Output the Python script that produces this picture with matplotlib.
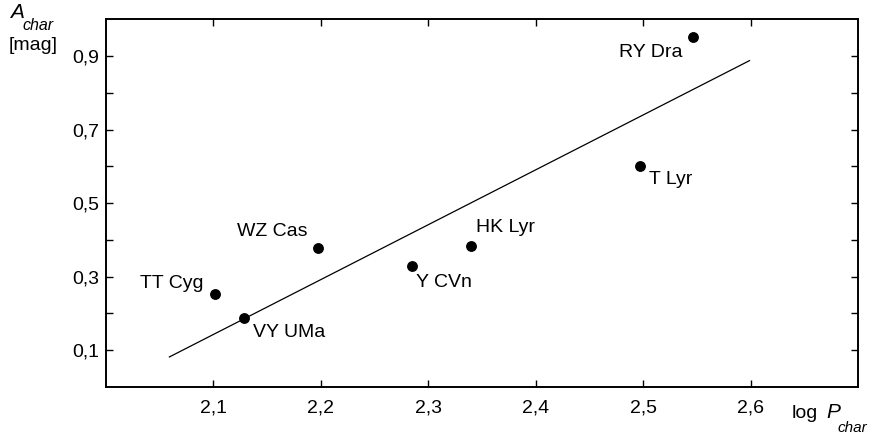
#!/usr/bin/env python3

import matplotlib.pyplot as plt
import numpy as np


STARS = ["TT Cyg", "VY UMa", "WZ Cas", "Y CVn", "HK Lyr", "T Lyr", "RY Dra"]
LOG_P = [2.101, 2.128, 2.197, 2.2845, 2.3395, 2.4975, 2.546]
AMPL = [0.253, 0.187, 0.379, 0.329, 0.383, 0.602, 0.951]

FIT_X = [2.059, 2.599]
FIT_Y = [0.081, 0.888]

X_TICKS = [2.1, 2.2, 2.3, 2.4, 2.5, 2.6]
Y_TICKS = [0.1, 0.2, 0.3, 0.4, 0.5, 0.6, 0.7, 0.8, 0.9]

# label offsets in pixels (dx, dy, ha)
OFFSETS = {
    "TT Cyg": (-11, 10, "right"),
    "VY UMa": (9, -14, "left"),
    "WZ Cas": (-10, 16, "right"),
    "Y CVn": (4, -17, "left"),
    "HK Lyr": (5, 19, "left"),
    "T Lyr": (9, -14, "left"),
    "RY Dra": (-10, -15, "right"),
}


def comma(v, _pos=None):
    return f"{v:.1f}".replace(".", ",")


def main() -> None:
    plt.rcParams.update({"font.family": "Liberation Sans", "font.size": 14})
    fig = plt.figure(figsize=(8.69, 4.40), dpi=100)
    ax = fig.add_axes([106 / 869, 1 - 386.7 / 440, 752 / 869, 367.2 / 440])

    ax.plot(FIT_X, FIT_Y, color="black", linewidth=0.9)
    ax.plot(LOG_P, AMPL, "o", color="black", markersize=6.8, linestyle="none")

    for name, x, y in zip(STARS, LOG_P, AMPL):
        dx, dy, ha = OFFSETS[name]
        ax.annotate(name, (x, y), xytext=(dx * 0.72, dy * 0.72), textcoords="offset points",
                    ha=ha, va="center", fontsize=14)

    ax.set_xlim(2.0, 2.7)
    ax.set_ylim(0.0, 1.0)
    ax.set_xticks(X_TICKS)
    ax.set_xticklabels([comma(v) for v in X_TICKS])
    ax.set_yticks(Y_TICKS)
    ax.set_yticklabels([comma(v) if round(v * 10) % 2 else "" for v in Y_TICKS])
    ax.tick_params(direction="in", length=5, width=1, top=True, right=True,
                   labelsize=14)
    ax.tick_params(axis="y", pad=5)
    ax.tick_params(axis="x", pad=9)
    for sp in ax.spines.values():
        sp.set_linewidth(1.4)

    # axis titles
    fig.text(10 / 869, 1 - 13 / 440, "A", style="italic", fontsize=15, va="center")
    fig.text(22 / 869, 1 - 26 / 440, "char", style="italic", fontsize=11.5, va="center")
    fig.text(9 / 869, 1 - 45 / 440, "[mag]", fontsize=14, va="center")
    fig.text(792 / 869, 1 - 413 / 440, "log", fontsize=14, va="center")
    fig.text(826 / 869, 1 - 412 / 440, "P", style="italic", fontsize=15, va="center")
    fig.text(838 / 869, 1 - 428 / 440, "char", style="italic", fontsize=11, va="center")

    fig.savefig("out.png", dpi=100)
    plt.close(fig)


if __name__ == "__main__":
    main()
